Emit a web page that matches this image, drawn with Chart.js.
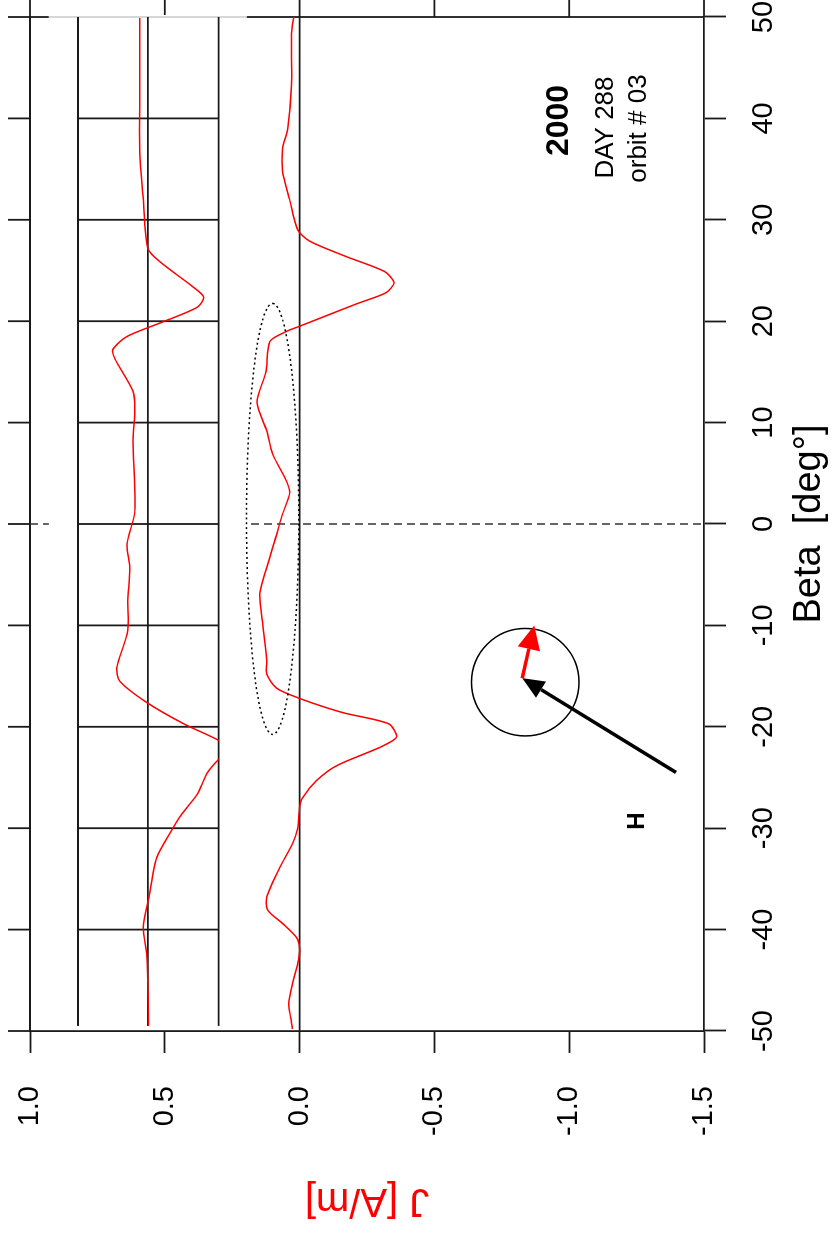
<!DOCTYPE html>
<html>
<head>
<meta charset="utf-8">
<script src="https://cdn.jsdelivr.net/npm/chart.js@4.4.1/dist/chart.umd.min.js"></script>
<style>
  html, body { margin: 0; padding: 0; background: #fff; }
  body { width: 832px; height: 1234px; overflow: hidden; position: relative; }
  /* the plot is laid out landscape and turned a quarter turn */
  #wrap {
    position: absolute; left: 0; top: 0;
    width: 1234px; height: 832px;
    transform-origin: 0 0;
    transform: translate(0, 1234px) rotate(-90deg);
  }
</style>
</head>
<body>
<div id="wrap"><canvas id="jChart" width="1234" height="832"></canvas></div>
<script>
const FONT = "'Liberation Sans', Arial, Helvetica, sans-serif";
const INK = "#1a1a1a";
const LW = 1.8;
const TICK = 22;

/* ========================================
   DATA
======================================== */
const betaTicks = [-50, -40, -30, -20, -10, 0, 10, 20, 30, 40, 50];
const jTicks = [1.0, 0.5, 0.0, -0.5, -1.0, -1.5];

// current density along the pass
const betaMain = [-49.8, -48.7, -47.3, -45.3, -43, -41.8, -40.8, -39.4, -38.1, -36.8,
  -33.9, -31.5, -30, -28, -27, -25.3, -23.8, -22, -21, -19.7,
  -18.6, -17.2, -16.2, -14.8, -13.5, -9.9, -6.9, -4.3, -1, 1,
  3, 4.2, 6.9, 9.2, 12, 15, 18, 19, 19.5, 21.7,
  22.8, 23.8, 24.9, 26.4, 27.9, 29, 32, 34.8, 37, 39,
  43.3, 48.4, 50];
const jMain = [0.026, 0.033, 0.04, 0.026, 0.004, 0, 0.011, 0.063, 0.118, 0.122,
  0.074, 0.026, 0.007, 0, -0.011, -0.063, -0.14, -0.30, -0.36, -0.33,
  -0.16, 0, 0.085, 0.122, 0.122, 0.137, 0.148, 0.122, 0.085, 0.063,
  0.037, 0.048, 0.1, 0.122, 0.158, 0.125, 0.11, 0.048, 0, -0.21,
  -0.32, -0.35, -0.315, -0.17, -0.037, 0.007, 0.037, 0.063, 0.063, 0.044,
  0.03, 0.03, 0.022];

// second profile, shown inside the gridded strip
const betaInset = [-49.5, -45, -42.4, -39.8, -36.8, -32.9, -30, -28.6, -26.6, -24.6,
  -23.2, -22.3, -21.4, -19.7, -17.6, -15.5, -14.2, -10.5, -7.6, -4.3,
  -2, 1.3, 8.2, 11.4, 13.1, 16.3, 17.2, 18.5, 19.8, 21.4,
  22.4, 23.4, 25.9, 27.2, 32.1, 36.7, 43, 49.9];
const jInset = [0.56, 0.563, 0.567, 0.58, 0.559, 0.53, 0.47, 0.437, 0.378, 0.344,
  0.3, 0.26, 0.296, 0.43, 0.567, 0.667, 0.678, 0.637, 0.637, 0.63,
  0.64, 0.611, 0.618, 0.611, 0.618, 0.685, 0.693, 0.64, 0.52, 0.378,
  0.356, 0.396, 0.52, 0.563, 0.58, 0.593, 0.593, 0.593];

// strip: white box, its grid lines
const stripJ = [0.93, 0.196];
const stripGridJ = [0.822, 0.563, 0.3];
const stripGridBeta = [-40, -30, -20, -10, 0, 10, 20, 30, 40];

// markers (beta, J)
const ellipseMark = { beta: 0.5, j: 0.1, rBeta: 21.25, rJ: 0.097 };
const circleMark = { beta: -15.6, j: -0.837, rBeta: 5.3 };
const arrowH = { from: [-24.5, -1.396], to: [-15.2, -0.826] };
const arrowJ = { from: [-15.2, -0.826], to: [-10.0, -0.87] };
const hLabel = { text: "H", beta: -29.3, j: -1.252 };
const infoLabels = [
  { text: "2000", beta: 39.8, j: -0.963, font: "bold 32px " + FONT },
  { text: "DAY 288", beta: 39.1, j: -1.135, font: "26px " + FONT },
  { text: "orbit # 03", beta: 39.0, j: -1.258, font: "26px " + FONT }
];

/* ========================================
   DRAW HELPERS
======================================== */
function line(ctx, x0, y0, x1, y1) {
  ctx.beginPath();
  ctx.moveTo(x0, y0);
  ctx.lineTo(x1, y1);
  ctx.stroke();
}

function arrow(ctx, x0, y0, x1, y1, color, width, headLen, headW) {
  const ang = Math.atan2(y1 - y0, x1 - x0);
  const bx = x1 - headLen * Math.cos(ang);
  const by = y1 - headLen * Math.sin(ang);
  ctx.strokeStyle = color;
  ctx.fillStyle = color;
  ctx.lineWidth = width;
  ctx.lineCap = "butt";
  line(ctx, x0, y0, bx, by);
  ctx.beginPath();
  ctx.moveTo(x1, y1);
  ctx.lineTo(bx + headW / 2 * Math.sin(ang), by - headW / 2 * Math.cos(ang));
  ctx.lineTo(bx - headW / 2 * Math.sin(ang), by + headW / 2 * Math.cos(ang));
  ctx.closePath();
  ctx.fill();
}

/* ========================================
   FRAME, STRIP AND MARKERS
======================================== */
const overlay = {
  id: "overlay",
  beforeDatasetsDraw(chart) {
    const { ctx, chartArea: a, scales: { x, y } } = chart;
    ctx.save();
    ctx.strokeStyle = INK;
    ctx.lineWidth = LW;

    // closing frame with outward ticks
    line(ctx, a.left - 1, a.top, a.right + 1, a.top);
    line(ctx, a.right, a.top, a.right, a.bottom);
    betaTicks.forEach(b => {
      const px = x.getPixelForValue(b);
      line(ctx, px, a.top, px, a.top - TICK);
    });
    jTicks.forEach(j => {
      const py = y.getPixelForValue(j);
      line(ctx, a.right, py, a.right + TICK, py);
    });

    // J = 0
    const y0 = y.getPixelForValue(0);
    line(ctx, a.left, y0, a.right, y0);

    // Beta = 0
    ctx.strokeStyle = "#333";
    ctx.lineWidth = 1.5;
    ctx.setLineDash([8, 5]);
    const x0 = x.getPixelForValue(0);
    line(ctx, x0, a.top, x0, a.bottom);
    ctx.setLineDash([]);

    // strip
    const sTop = y.getPixelForValue(stripJ[0]);
    const sBot = y.getPixelForValue(stripJ[1]);
    const sL = x.getPixelForValue(-49.4);
    const sR = x.getPixelForValue(50) + 2;
    ctx.fillStyle = "#fff";
    ctx.fillRect(sL, sTop, sR - sL, sBot - sTop);
    ctx.strokeStyle = "#c8c8c8";
    line(ctx, x.getPixelForValue(50), sTop, x.getPixelForValue(50), sBot);

    ctx.strokeStyle = INK;
    ctx.lineWidth = LW;
    const gL = x.getPixelForValue(-49.5);
    const gR = x.getPixelForValue(50);
    stripGridJ.forEach(j => {
      const py = y.getPixelForValue(j);
      line(ctx, gL, py, gR, py);
    });
    const gTop = y.getPixelForValue(stripGridJ[0]);
    const gBot = y.getPixelForValue(stripGridJ[stripGridJ.length - 1]);
    stripGridBeta.forEach(b => {
      const px = x.getPixelForValue(b);
      line(ctx, px, gTop, px, gBot);
    });
    ctx.restore();
  },

  // second profile stays inside the strip grid
  beforeDatasetDraw(chart, args) {
    if (args.index !== 1) return;
    const { ctx, scales: { x, y } } = chart;
    const top = y.getPixelForValue(stripGridJ[0]);
    const bot = y.getPixelForValue(stripGridJ[stripGridJ.length - 1]);
    ctx.save();
    ctx.beginPath();
    ctx.rect(x.getPixelForValue(-50), top, x.getPixelForValue(50) - x.getPixelForValue(-50), bot - top);
    ctx.clip();
  },
  afterDatasetDraw(chart, args) {
    if (args.index === 1) chart.ctx.restore();
  },

  afterDatasetsDraw(chart) {
    const { ctx, scales: { x, y } } = chart;
    const px = v => x.getPixelForValue(v);
    const py = v => y.getPixelForValue(v);
    ctx.save();

    // dotted ellipse
    ctx.strokeStyle = "#000";
    ctx.lineWidth = 1.5;
    ctx.setLineDash([2, 3]);
    ctx.beginPath();
    ctx.ellipse(px(ellipseMark.beta), py(ellipseMark.j),
      Math.abs(px(ellipseMark.rBeta) - px(0)),
      Math.abs(py(ellipseMark.rJ) - py(0)), 0, 0, Math.PI * 2);
    ctx.stroke();
    ctx.setLineDash([]);

    // circle
    ctx.beginPath();
    ctx.arc(px(circleMark.beta), py(circleMark.j),
      Math.abs(px(circleMark.rBeta) - px(0)), 0, Math.PI * 2);
    ctx.stroke();

    arrow(ctx, px(arrowH.from[0]), py(arrowH.from[1]), px(arrowH.to[0]), py(arrowH.to[1]),
      "#000", 3.5, 22, 19);
    arrow(ctx, px(arrowJ.from[0]), py(arrowJ.from[1]), px(arrowJ.to[0]), py(arrowJ.to[1]),
      "#ff0000", 3.5, 24, 23);

    ctx.fillStyle = "#000";
    ctx.textAlign = "center";
    ctx.textBaseline = "middle";
    ctx.font = "bold 24px " + FONT;
    ctx.fillText(hLabel.text, px(hLabel.beta), py(hLabel.j));
    infoLabels.forEach(l => {
      ctx.font = l.font;
      ctx.fillText(l.text, px(l.beta), py(l.j));
    });
    ctx.restore();
  }
};

/* ========================================
   CHART
======================================== */
const toPoints = (xs, ys) => xs.map((b, i) => ({ x: b, y: ys[i] }));

new Chart(document.getElementById("jChart").getContext("2d"), {
  type: "line",
  data: {
    datasets: [
      {
        label: "J",
        data: toPoints(betaMain, jMain),
        borderColor: "#ff0000",
        borderWidth: 1.5,
        pointRadius: 0,
        tension: 0.25,
        fill: false
      },
      {
        label: "J strip",
        data: toPoints(betaInset, jInset),
        borderColor: "#ff0000",
        borderWidth: 1.5,
        pointRadius: 0,
        tension: 0.25,
        fill: false,
        clip: false
      }
    ]
  },
  options: {
    responsive: false,
    animation: false,
    devicePixelRatio: 1,
    layout: { padding: { top: 30, right: 17, bottom: 0, left: 0 } },
    plugins: {
      legend: { display: false },
      tooltip: { enabled: false }
    },
    scales: {
      x: {
        type: "linear",
        min: -50,
        max: 50,
        afterBuildTicks: s => { s.ticks = betaTicks.map(v => ({ value: v })); },
        // fixed box; end labels may hang over the frame
        afterFit: s => { s.height = 128; s.paddingLeft = 0; s.paddingRight = 0; },
        grid: { drawOnChartArea: false, tickLength: TICK, tickColor: INK, tickWidth: LW },
        border: { display: true, color: INK, width: LW },
        ticks: {
          color: "#000",
          padding: 21,
          maxRotation: 0,
          font: { family: FONT, size: 29 }
        },
        title: {
          display: true,
          text: "Beta  [deg°]",
          color: "#000",
          padding: { top: 5, bottom: 0 },
          font: { family: FONT, size: 38 }
        }
      },
      y: {
        type: "linear",
        min: -1.5,
        max: 1.0,
        afterBuildTicks: s => { s.ticks = jTicks.map(v => ({ value: v })); },
        afterFit: s => { s.width = 203; s.paddingTop = 0; s.paddingBottom = 0; },
        grid: { drawOnChartArea: false, tickLength: TICK, tickColor: INK, tickWidth: LW },
        border: { display: true, color: INK, width: LW },
        ticks: {
          color: "#000",
          padding: 33,
          callback: v => v.toFixed(1),
          font: { family: FONT, size: 29 }
        },
        title: {
          display: true,
          text: "J [A/m]",
          color: "#ff0000",
          padding: { top: 10, bottom: 0 },
          font: { family: FONT, size: 40 }
        }
      }
    }
  },
  plugins: [overlay]
});
</script>
</body>
</html>
